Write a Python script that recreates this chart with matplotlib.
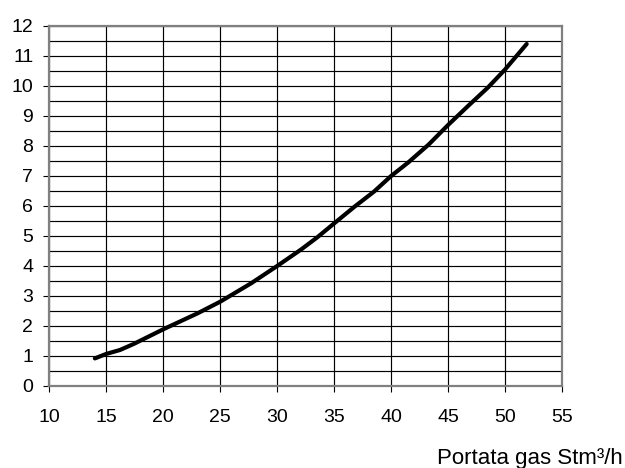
import matplotlib
matplotlib.use("Agg")
import matplotlib.pyplot as plt
from matplotlib.ticker import MultipleLocator

plt.rcParams['font.family'] = ['Liberation Sans', 'DejaVu Sans']

portata = [14.0, 15.0, 16.2, 17.4, 20.0, 23.0, 25.0, 27.7, 30.0, 32.1, 33.5, 35.0,
           36.8, 38.5, 40.0, 41.5, 43.3, 45.0, 46.8, 48.5, 50.0, 51.9]
valore = [0.92, 1.07, 1.2, 1.4, 1.89, 2.42, 2.81, 3.42, 4.0, 4.55, 4.95, 5.42,
          5.98, 6.48, 7.0, 7.45, 8.05, 8.7, 9.35, 9.95, 10.55, 11.4]
x_label = "Portata gas Stm³/h"

fig = plt.figure(figsize=(6.25, 4.68), dpi=100)
ax = fig.add_axes([49.3/625, 1-386/468, (562-49.3)/625, (386-26)/468])

ax.set_xlim(10, 55)
ax.set_ylim(0, 12)
ax.xaxis.set_major_locator(MultipleLocator(5))
ax.yaxis.set_major_locator(MultipleLocator(1))
ax.yaxis.set_minor_locator(MultipleLocator(0.5))
ax.grid(which='both', color='black', linewidth=0.85)
ax.set_axisbelow(True)
ax.tick_params(axis='y', which='minor', length=0)
ax.tick_params(axis='y', which='major', length=4.5, width=0.8, pad=7, labelsize=14)
ax.tick_params(axis='x', which='major', length=4.5, width=0.8, pad=12, labelsize=14)
for s in ax.spines.values():
    s.set_color('#808080')
    s.set_linewidth(1.6)

ax.plot(portata, valore, color='black', linewidth=3.0, solid_capstyle='round')

fig.text(623/625, 4/468, x_label, ha='right', va='baseline', fontsize=16)

fig.savefig("out.png", dpi=100)
